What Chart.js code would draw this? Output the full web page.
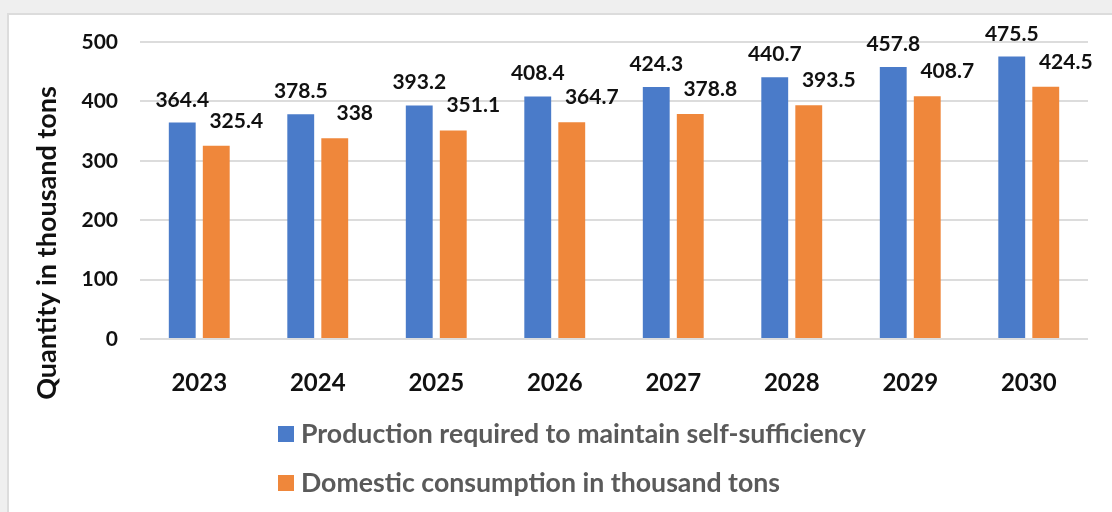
<!DOCTYPE html>
<html>
<head>
<meta charset="utf-8">
<script src="https://cdn.jsdelivr.net/npm/chart.js@4/dist/chart.umd.min.js"></script>
<style>
  html, body { margin: 0; padding: 0; background: #efefef; }
  #frame {
    position: absolute; left: 7px; top: 13px;
    border-left: 2px solid #dcdcdc; border-top: 2px solid #dcdcdc;
    background: #ffffff; width: 1103px; height: 497px;
  }
  canvas { display: block; }
</style>
</head>
<body>
<div id="frame"><canvas id="selfChart" width="1103" height="497"></canvas></div>
<script>
// Dados do gráfico
var years = ['2023', '2024', '2025', '2026', '2027', '2028', '2029', '2030'];
var productionValues = [364.4, 378.5, 393.2, 408.4, 424.3, 440.7, 457.8, 475.5];
var consumptionValues = [325.4, 338, 351.1, 364.7, 378.8, 393.5, 408.7, 424.5];
var seriesNames = ['Production required to maintain self-sufficiency', 'Domestic consumption in thousand tons'];
var axisTitle = 'Quantity in thousand tons';

var FONT = 'Lato, "Open Sans", sans-serif';

// Rótulos de valor acima de cada barra
var valueLabels = {
    id: 'valueLabels',
    afterDatasetsDraw: function (chart) {
        var ctx = chart.ctx;
        var offsets = [{ dx: 0, dy: 16 }, { dx: 20, dy: 18 }];
        ctx.save();
        ctx.font = 'bold 21px ' + FONT;
        ctx.fillStyle = '#111';
        ctx.textAlign = 'center';
        ctx.textBaseline = 'alphabetic';
        chart.data.datasets.forEach(function (ds, i) {
            var meta = chart.getDatasetMeta(i);
            meta.data.forEach(function (bar, j) {
                ctx.fillText(String(ds.data[j]), bar.x + offsets[i].dx, bar.y - offsets[i].dy);
            });
        });
        ctx.restore();
    }
};

// Título do eixo Y e legenda desenhados à mão
var sideTexts = {
    id: 'sideTexts',
    afterDraw: function (chart) {
        var ctx = chart.ctx;
        ctx.save();
        ctx.font = 'bold 27px ' + FONT;
        ctx.fillStyle = '#111';
        ctx.textAlign = 'center';
        ctx.textBaseline = 'middle';
        ctx.translate(38, 228);
        ctx.rotate(-Math.PI / 2);
        ctx.fillText(axisTitle, 0, 0);
        ctx.restore();

        ctx.save();
        ctx.font = 'bold 26.7px ' + FONT;
        ctx.textAlign = 'left';
        ctx.textBaseline = 'middle';
        chart.data.datasets.forEach(function (ds, i) {
            var y = 419 + i * 49;
            ctx.fillStyle = ds.backgroundColor;
            ctx.fillRect(269, y - 8, 16, 16);
            ctx.fillStyle = '#5a5a5a';
            ctx.fillText(ds.label, 292, y);
        });
        ctx.restore();
    }
};

var ctx = document.getElementById('selfChart').getContext('2d');
var chart = new Chart(ctx, {
    type: 'bar',
    data: {
        labels: years,
        datasets: [{
            label: seriesNames[0],
            data: productionValues,
            backgroundColor: '#4a7bc9',
            categoryPercentage: 0.574,
            barPercentage: 0.79
        }, {
            label: seriesNames[1],
            data: consumptionValues,
            backgroundColor: '#ef873b',
            categoryPercentage: 0.574,
            barPercentage: 0.79
        }]
    },
    options: {
        responsive: false,
        animation: false,
        devicePixelRatio: 1,
        layout: { padding: { top: 27, right: 24, bottom: 0, left: 0 } },
        plugins: {
            legend: { display: false },
            tooltip: { enabled: false }
        },
        scales: {
            x: {
                grid: { display: false },
                border: { display: false },
                ticks: {
                    padding: 22,
                    color: '#111',
                    font: { family: FONT, size: 24, weight: 'bold' }
                },
                afterFit: function (scale) { scale.height = 173; }
            },
            y: {
                min: 0,
                max: 500,
                grid: { color: '#dcdcdc', lineWidth: 2, drawTicks: false },
                border: { display: false },
                ticks: {
                    stepSize: 100,
                    padding: 22,
                    color: '#111',
                    font: { family: FONT, size: 21, weight: 'bold' }
                },
                afterFit: function (scale) {
                    // largura fixa e sem folga extra acima do eixo
                    scale.width = 131;
                    scale.paddingTop = 0;
                    scale.paddingBottom = 0;
                }
            }
        }
    },
    plugins: [valueLabels, sideTexts]
});
</script>
</body>
</html>
